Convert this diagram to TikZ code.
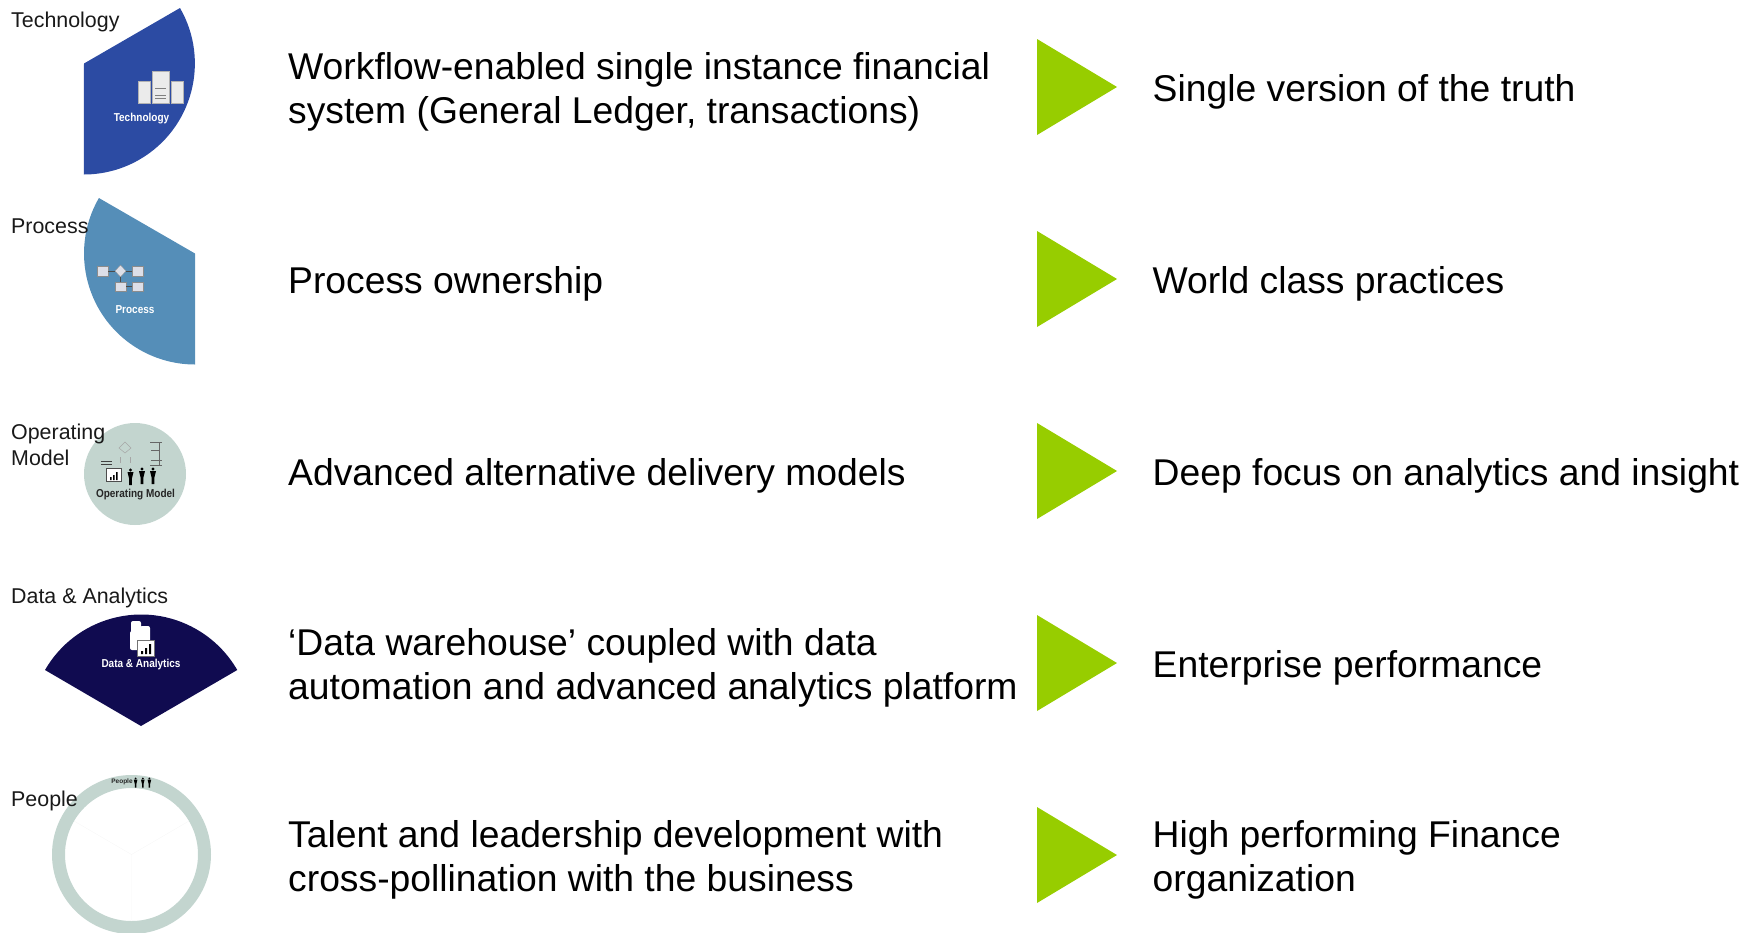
\documentclass[tikz,border=0pt]{standalone}
\usepackage{fontspec}
\setmainfont{Liberation Sans}
\usetikzlibrary{calc}
\definecolor{techblue}{HTML}{2C4BA3}
\definecolor{procblue}{HTML}{558EB8}
\definecolor{sagegrey}{HTML}{C3D5CF}
\definecolor{datanavy}{HTML}{100B50}
\definecolor{arrowgreen}{HTML}{97CD00}
\definecolor{iconpaper}{HTML}{DDDFE8}
\tikzset{
	bigtext/.style={anchor=west, align=left, inner sep=0pt, font=\fontsize{37.28}{44.6}\selectfont, text=black},
	sidelabel/.style={anchor=west, align=left, inner sep=0pt, font=\fontsize{21.4}{25.6}\selectfont, text=black!90},
	wedgelabel/.style={inner sep=0pt, font=\fontsize{11.5}{13}\selectfont\bfseries, text=white, xscale=0.87, transform shape},
	darklabel/.style={inner sep=0pt, font=\fontsize{11.5}{13}\selectfont\bfseries, text=black!85, xscale=0.87, transform shape},
	greenarrow/.style={fill=arrowgreen, draw=none},
	papericon/.style={fill=iconpaper, draw=black!45, line width=0.3pt},
	servericon/.style={fill=black!8, draw=black!30, line width=0.3pt},
}
\def\personicon(#1,#2){\fill[black] (#1, #2) circle (1.7);
	\fill[black] (#1-3, #2+2) -- (#1+3, #2+2) -- (#1+1.3, #2+9) -- (#1+1.3, #2+15) -- (#1-1.3, #2+15) -- (#1-1.3, #2+9) -- cycle;}
\begin{document}
\begin{tikzpicture}[x=1pt, y=-1pt]
	%%%%% START %%%%%
	\useasboundingbox (0, 0) rectangle (1756, 932);

	% Technology wedge
	\fill[techblue] (84, 63.5) -- (180, 8) arc (-30:90:111) -- cycle;
	\draw[servericon] (138, 81) rectangle (150, 103);
	\draw[servericon] (152, 71) rectangle (169, 103);
	\draw[servericon] (171, 81) rectangle (183, 103);
	\draw[black!50, line width=0.5pt] (155, 88) -- (166, 88) (155, 95) -- (166, 95) (155, 98) -- (166, 98);
	\node[wedgelabel] (techlabel) at (141.5, 119) {Technology};
	\node[sidelabel] (techside) at (11, 22) {Technology};

	% Process wedge
	\fill[procblue] (195, 253.5) -- (98.9, 198) arc (-150:-270:111) -- cycle;
	\draw[papericon] (97, 266) rectangle (108, 276);
	\draw[papericon] (132, 266) rectangle (143, 276);
	\draw[papericon] (115, 282) rectangle (126, 291);
	\draw[papericon] (132, 282) rectangle (143, 291);
	\draw[papericon] (120.5, 265) -- (126, 271) -- (120.5, 277) -- (115, 271) -- cycle;
	\draw[black!70, line width=0.4pt] (108, 271) -- (115, 271) (126, 271) -- (132, 271) (120.5, 277) -- (120.5, 282) (126, 286) -- (132, 286);
	\node[wedgelabel] (proclabel) at (135, 310) {Process};
	\node[sidelabel] (procside) at (11, 226) {Process};

	% Operating Model disc
	\fill[sagegrey] (135, 474) circle (51);
	\draw[black!35, line width=0.5pt] (125, 442) -- (131, 448) -- (125, 453) -- (119, 448) -- cycle;
	\draw[black!35, line width=0.5pt] (120, 457) -- (120, 463) (130, 457) -- (130, 463);
	\draw[black!60, line width=0.5pt] (150, 442) -- (162, 442) (159, 442) -- (159, 465) (151, 450) -- (160, 450) (151, 460) -- (162, 460) (150, 465) -- (162, 465);
	\draw[black!75, line width=0.4pt] (101, 461) -- (112, 461) (101, 464) -- (112, 464);
	\draw[black!70, fill=white, line width=0.5pt] (106, 468) rectangle (121, 481);
	\fill[black] (110, 477) rectangle (111.5, 480) (113, 475) rectangle (114.5, 480) (116, 472) rectangle (117.5, 480);
	\personicon(130.5, 470)
	\personicon(142, 469)
	\personicon(153, 469)
	\node[darklabel] (opslabel) at (135.5, 494.5) {Operating Model};
	\node[sidelabel] (opsside) at (11, 445) {Operating\\Model};

	% Data and Analytics wedge
	\fill[datanavy] (141, 726) -- (45, 670) arc (-150:-30:111) -- cycle;
	\fill[white, rounded corners=2pt] (131, 621) rectangle (141, 640);
	\fill[white, rounded corners=2pt] (140, 626) rectangle (150, 645);
	\fill[white, rounded corners=2pt] (130, 631) rectangle (142, 650);
	\draw[black!55, fill=white, line width=0.6pt] (137, 640) rectangle (154, 656);
	\fill[black] (141, 651) rectangle (143, 654) (145, 648) rectangle (147, 654) (149, 644) rectangle (151, 654);
	\node[wedgelabel] (datalabel) at (141, 664.5) {Data \& Analytics};
	\node[sidelabel] (dataside) at (11, 598) {Data \& Analytics};

	% People ring
	\fill[sagegrey, even odd rule] (131.5, 854.5) circle (79.5) (131.5, 854.5) circle (66.5);
	\draw[black!3, line width=0.4pt] (131.5, 854.5) -- (74, 821) (131.5, 854.5) -- (189, 821) (131.5, 854.5) -- (131.5, 921);
	\node[inner sep=0pt, font=\fontsize{6.5}{7}\selectfont\bfseries, text=black!85] (peoplelabel) at (122, 782) {People};
	\begin{scope}[shift={(0, 775.5)}, scale=0.6]
		\personicon(226, 5)
		\personicon(238, 5)
		\personicon(249, 5)
	\end{scope}
	\node[sidelabel] (peopleside) at (11, 801) {People};

	% middle column
	\node[bigtext] (techtext) at (288, 92) {Workflow-enabled single instance financial\\system (General Ledger, transactions)};
	\node[bigtext] (proctext) at (288, 284) {Process ownership};
	\node[bigtext] (opstext) at (288, 476) {Advanced alternative delivery models};
	\node[bigtext] (datatext) at (288, 668) {‘Data warehouse’ coupled with data\\automation and advanced analytics platform};
	\node[bigtext] (peopletext) at (288, 860) {Talent and leadership development with\\cross-pollination with the business};

	% arrows
	\foreach \ya in {39, 231, 423, 615, 807}{
		\fill[greenarrow] (1037, \ya) -- (1117, \ya+48) -- (1037, \ya+96) -- cycle;
	}

	% right column
	\node[bigtext] (techgoal) at (1152.5, 92) {Single version of the truth};
	\node[bigtext] (procgoal) at (1152.5, 284) {World class practices};
	\node[bigtext] (opsgoal) at (1152.5, 476) {Deep focus on analytics and insight};
	\node[bigtext] (datagoal) at (1152.5, 668) {Enterprise performance};
	\node[bigtext] (peoplegoal) at (1152.5, 860) {High performing Finance\\organization};
	%%%%% END %%%%%
\end{tikzpicture}
\end{document}
